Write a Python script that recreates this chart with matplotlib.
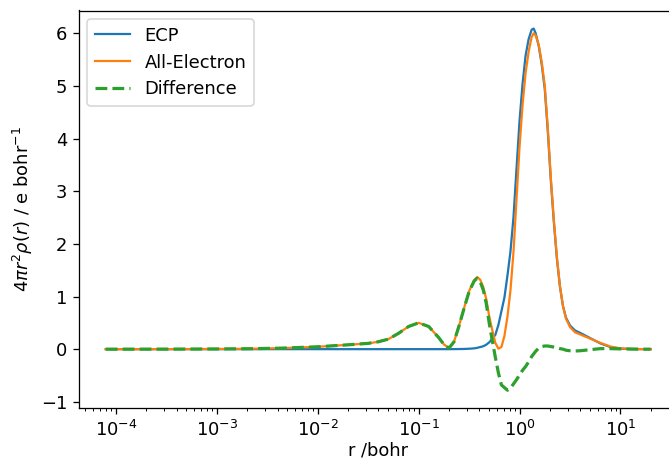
import matplotlib
matplotlib.use("Agg")
import matplotlib.pyplot as plt
import numpy as np

# radial grid (bohr)
R = [7.94e-5, 3.16e-4, 1.0e-3, 2.14e-3, 4.57e-3, 1.0e-2, 2.09e-2, 3.16e-2,
     3.98e-2, 5.01e-2, 6.31e-2, 7.94e-2, 0.100, 0.126, 0.158, 0.178,
     0.200, 0.224, 0.251, 0.282, 0.316, 0.355, 0.380, 0.407, 0.437,
     0.468, 0.501, 0.537, 0.575, 0.617, 0.661, 0.708, 0.759, 0.813,
     0.871, 0.933, 1.000, 1.072, 1.148, 1.230, 1.318, 1.380, 1.445,
     1.549, 1.660, 1.778, 1.905, 2.042, 2.188, 2.344, 2.512, 2.692,
     2.884, 3.162, 3.548, 3.981, 4.467, 5.012, 5.623, 6.310, 7.943,
     10.00, 12.59, 15.85, 19.95]

# 4 pi r^2 rho(r), e/bohr
ECP = [0.0, 0.0, 0.0, 0.0, 0.0, 0.0, 0.0, 0.0,
       0.0, 0.0, 0.0, 0.0, 0.0, 0.0, 0.0, 0.0,
       0.0, 0.001, 0.002, 0.004, 0.008, 0.015, 0.025, 0.04, 0.055,
       0.085, 0.13, 0.20, 0.27, 0.46, 0.72, 0.98, 1.40, 1.86,
       2.51, 3.43, 4.34, 5.05, 5.58, 5.89, 6.07, 6.09, 6.00,
       5.76, 5.40, 4.94, 4.14, 3.20, 2.41, 1.72, 1.19, 0.82,
       0.60, 0.45, 0.355, 0.31, 0.26, 0.21, 0.16, 0.11, 0.04,
       0.01, 0.002, 0.001, 0.0]

AE = [0.0, 0.001, 0.004, 0.008, 0.02, 0.045, 0.085, 0.11,
      0.14, 0.19, 0.30, 0.43, 0.50, 0.43, 0.22, 0.09,
      0.02, 0.14, 0.44, 0.78, 1.10, 1.31, 1.37, 1.32, 1.18,
      0.95, 0.62, 0.36, 0.12, 0.01, 0.04, 0.25, 0.62, 1.12,
      1.85, 2.85, 3.85, 4.65, 5.25, 5.65, 5.93, 6.00, 5.96,
      5.78, 5.45, 5.00, 4.20, 3.25, 2.45, 1.75, 1.20, 0.82,
      0.58, 0.42, 0.32, 0.28, 0.24, 0.20, 0.16, 0.12, 0.05,
      0.015, 0.004, 0.001, 0.0]

DIFF = [0.0, 0.001, 0.004, 0.008, 0.02, 0.045, 0.085, 0.11,
        0.14, 0.19, 0.30, 0.43, 0.50, 0.43, 0.22, 0.09,
        0.02, 0.139, 0.438, 0.776, 1.092, 1.295, 1.345, 1.28, 1.125,
        0.865, 0.49, 0.16, -0.15, -0.45, -0.68, -0.73, -0.78, -0.74,
        -0.66, -0.58, -0.49, -0.40, -0.33, -0.24, -0.14, -0.09, -0.04,
        0.02, 0.05, 0.06, 0.06, 0.05, 0.04, 0.03, 0.01, 0.0,
        -0.02, -0.03, -0.035, -0.03, -0.02, -0.01, 0.0, 0.01, 0.01,
        0.005, 0.002, 0.0, 0.0]

DPI = 115
plt.rcParams["font.size"] = 11.2
fig = plt.figure(figsize=(669 / DPI, 460 / DPI), dpi=DPI)
ax = fig.add_axes([78.5 / 669, 1 - 408.3 / 460, 599.5 / 669, 397.8 / 460])

ax.plot(R, ECP, color="C0", lw=1.4, label="ECP")
ax.plot(R, AE, color="C1", lw=1.4, label="All-Electron")
ax.plot(R, DIFF, color="C2", lw=2, ls="--", label="Difference")

ax.set_xscale("log")
ax.set_xlabel("r /bohr", labelpad=1.5)
ax.set_ylabel(r"$4\pi r^2 \rho(r)$ / e bohr$^{-1}$")
ax.legend(loc="upper left")

fig.savefig("out.png", dpi=DPI)
